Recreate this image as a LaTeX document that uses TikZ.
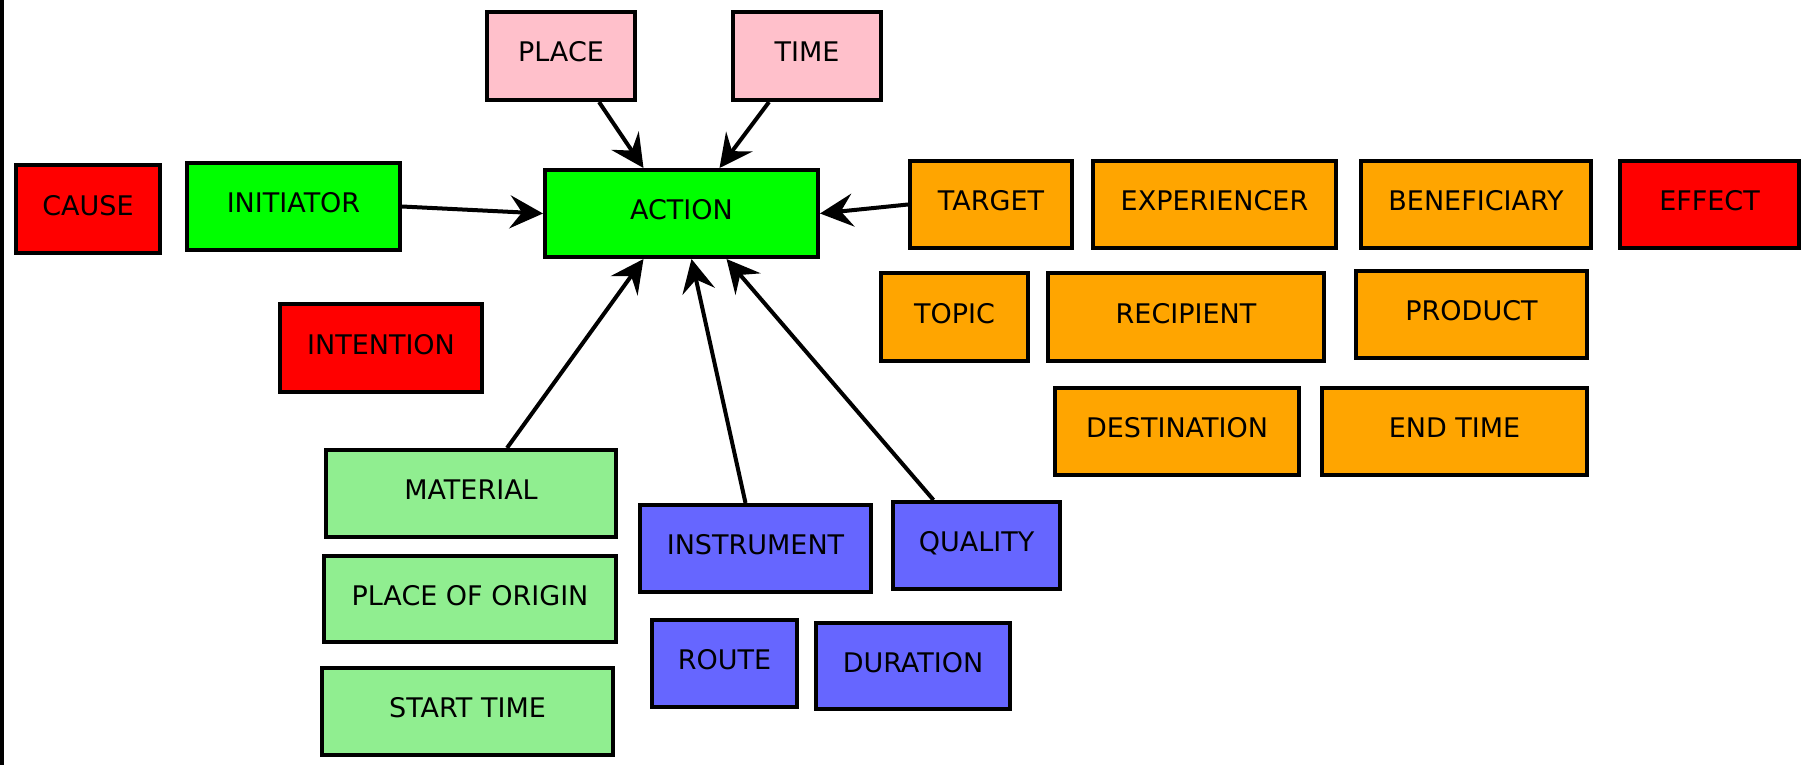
\documentclass[tikz,border=0pt]{standalone}
\usepackage{fontspec}
\setmainfont{DejaVu Sans}
\usetikzlibrary{arrows.meta}
\definecolor{cred}{HTML}{FF0000}
\definecolor{cgreen}{HTML}{00FF00}
\definecolor{cpink}{HTML}{FFC0CB}
\definecolor{corange}{HTML}{FFA500}
\definecolor{clgreen}{HTML}{90EE90}
\definecolor{cblue}{HTML}{6666FF}
\begin{document}
\begin{tikzpicture}[x=1pt,y=-1pt,
  box/.style={draw=black, line width=4pt, rectangle, inner sep=0pt,
    font=\fontsize{27}{30}\selectfont, text height=20pt, text depth=8pt},
  arr/.style={line width=4pt, -{Stealth[length=33pt,width=33pt,inset=12pt]}}]
\useasboundingbox (0,0) rectangle (1816,765);
\fill[white] (0,0) rectangle (1816,765);
\fill[black] (0,0) rectangle (4,765);
% boxes
\node[box, fill=cpink, minimum width=148pt, minimum height=88pt] (place) at (561,56) {PLACE};
\node[box, fill=cpink, minimum width=148pt, minimum height=88pt] (time) at (807,56) {TIME};
\node[box, fill=cred, minimum width=144pt, minimum height=88pt] (cause) at (88,209) {CAUSE};
\node[box, fill=cgreen, minimum width=213pt, minimum height=87pt] (initiator) at (293.5,206.5) {INITIATOR};
\node[box, fill=cgreen, minimum width=273pt, minimum height=87pt] (action) at (681.5,213.5) {ACTION};
\node[box, fill=cred, minimum width=202pt, minimum height=88pt] (intention) at (381,348) {INTENTION};
\node[box, fill=corange, minimum width=162pt, minimum height=87pt] (target) at (991,204.5) {TARGET};
\node[box, fill=corange, minimum width=243pt, minimum height=87pt] (experiencer) at (1214.5,204.5) {EXPERIENCER};
\node[box, fill=corange, minimum width=230pt, minimum height=87pt] (beneficiary) at (1476,204.5) {BENEFICIARY};
\node[box, fill=cred, minimum width=179pt, minimum height=87pt] (effect) at (1709.5,204.5) {EFFECT};
\node[box, fill=corange, minimum width=147pt, minimum height=88pt] (topic) at (954.5,317) {TOPIC};
\node[box, fill=corange, minimum width=276pt, minimum height=88pt] (recipient) at (1186,317) {RECIPIENT};
\node[box, fill=corange, minimum width=231pt, minimum height=87pt] (product) at (1471.5,314.5) {PRODUCT};
\node[box, fill=corange, minimum width=244pt, minimum height=87pt] (destination) at (1177,431.5) {DESTINATION};
\node[box, fill=corange, minimum width=265pt, minimum height=87pt] (endtime) at (1454.5,431.5) {END TIME};
\node[box, fill=clgreen, minimum width=290pt, minimum height=87pt] (material) at (471,493.5) {MATERIAL};
\node[box, fill=clgreen, minimum width=292pt, minimum height=86pt] (origin) at (470,599) {PLACE OF ORIGIN};
\node[box, fill=clgreen, minimum width=291pt, minimum height=87pt] (starttime) at (467.5,711.5) {START TIME};
\node[box, fill=cblue, minimum width=231pt, minimum height=87pt] (instrument) at (755.5,548.5) {INSTRUMENT};
\node[box, fill=cblue, minimum width=167pt, minimum height=87pt] (quality) at (976.5,545.5) {QUALITY};
\node[box, fill=cblue, minimum width=145pt, minimum height=87pt] (route) at (724.5,663.5) {ROUTE};
\node[box, fill=cblue, minimum width=194pt, minimum height=86pt] (duration) at (913,666) {DURATION};
% connectors
\draw[arr] ([xshift=38pt]place.south) -- ([xshift=-38pt]action.north);
\draw[arr] ([xshift=-38pt]time.south) -- ([xshift=38pt]action.north);
\draw[arr] (initiator.east) -- (action.west);
\draw[arr] (target.west) -- (action.east);
\draw[arr] ([xshift=36pt]material.north) -- ([xshift=-38pt]action.south);
\draw[arr] ([xshift=-10pt]instrument.north) -- ([xshift=10pt]action.south);
\draw[arr] ([xshift=-43pt]quality.north) -- ([xshift=45pt]action.south);
\end{tikzpicture}
\end{document}
